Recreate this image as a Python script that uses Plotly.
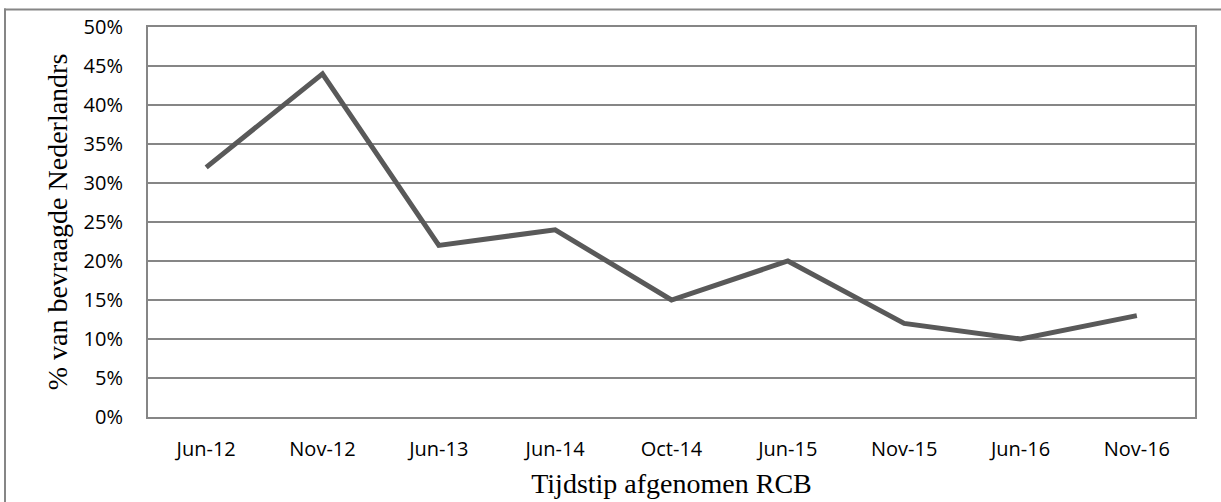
import plotly.graph_objects as go

categories = ["Jun-12", "Nov-12", "Jun-13", "Jun-14", "Oct-14", "Jun-15", "Nov-15", "Jun-16", "Nov-16"]
values = [0.32, 0.44, 0.22, 0.24, 0.15, 0.20, 0.12, 0.10, 0.13]
y_ticks = [0, 0.05, 0.10, 0.15, 0.20, 0.25, 0.30, 0.35, 0.40, 0.45, 0.50]
y_tick_labels = ["0%", "5%", "10%", "15%", "20%", "25%", "30%", "35%", "40%", "45%", "50%"]

W, H = 1221, 502
# plot area in page pixels: x 148..1195, y 27..417 (page body margin removed below)
ml, mt = 148, 27
mr = W - 1195
mb = H - 417
pw, ph = W - ml - mr, H - mt - mb

def sx(x):
    return (x - ml) / pw

def sy(y):
    return (H - mb - y) / ph

fig = go.Figure()
fig.add_trace(go.Scatter(
    x=categories, y=values, mode="lines",
    line=dict(color="#595959", width=5),
    hoverinfo="skip", showlegend=False,
))

tick_font = dict(size=20, family="Open Sans, sans-serif", color="#000000")
title_font = dict(family="Liberation Serif, DejaVu Serif, serif", size=28, color="#000000")
border = dict(color="#868686", width=2)

fig.update_layout(
    width=W, height=H,
    margin=dict(l=ml, r=mr, t=mt, b=mb, autoexpand=False),
    paper_bgcolor="white", plot_bgcolor="white",
    xaxis=dict(
        type="category", range=[-0.5, len(categories) - 0.5],
        automargin=False,
        showgrid=False, zeroline=False,
        showline=True, linecolor="#868686", linewidth=2, mirror=True,
        ticks="", tickfont=tick_font,
        ticklabelstandoff=13,
        title=dict(text="Tijdstip afgenomen RCB", font=title_font, standoff=12),
    ),
    yaxis=dict(
        range=[0, 0.5], tickvals=y_ticks, ticktext=y_tick_labels,
        automargin=False,
        showgrid=True, gridcolor="#868686", gridwidth=1.5,
        zeroline=False,
        showline=True, linecolor="#868686", linewidth=2, mirror=True,
        ticks="", tickfont=tick_font,
        ticklabelstandoff=19,
        title=dict(text="% van bevraagde Nederlandrs", font=title_font, standoff=8),
    ),
    shapes=[
        dict(type="line", xref="paper", yref="paper",
             x0=sx(4), x1=sx(W + 5), y0=sy(9.5), y1=sy(9.5), line=border, layer="below"),
        dict(type="line", xref="paper", yref="paper",
             x0=sx(5), x1=sx(5), y0=sy(8.5), y1=sy(H + 5), line=border, layer="below"),
    ],
)

fig.write_html(
    "out.html",
    config={"displayModeBar": False},
    post_script=(
        "document.body.style.margin='0';document.body.style.padding='0';"
        "document.body.style.overflow='hidden';"
        "document.documentElement.style.overflow='hidden';"
    ),
)
